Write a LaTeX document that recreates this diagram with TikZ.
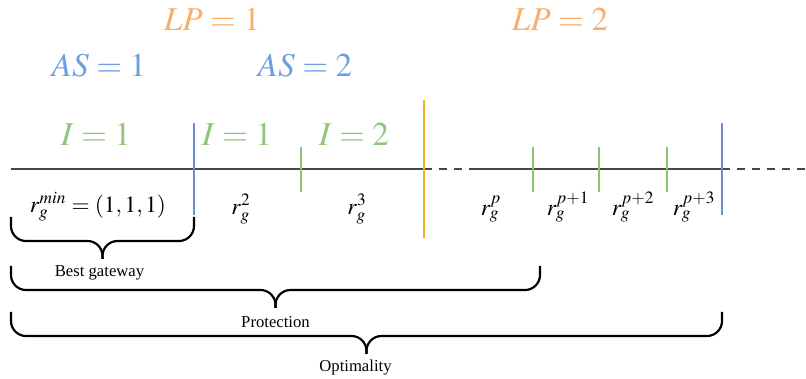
\documentclass[tikz,border=0pt]{standalone}
\usepackage{mathptmx}
\usepackage{fontspec}
\setmainfont{Liberation Serif}
\usepackage{xcolor}
\definecolor{lporange}{HTML}{F9AE6B}
\definecolor{asblue}{HTML}{6D9EE0}
\definecolor{igreen}{HTML}{93C47D}
\definecolor{cutorange}{HTML}{EDB01E}
\definecolor{cutblue}{HTML}{6690D2}
\definecolor{cutgreen}{HTML}{8BC46A}
\definecolor{axisgray}{HTML}{474747}

\begin{document}
\begin{tikzpicture}[
		x=0.6pt, y=-0.6pt, line width=1.1pt,
		level/.style={font=\fontsize{20}{24}\selectfont, inner sep=0pt}, % big coloured labels
		rank/.style={font=\fontsize{14}{16}\selectfont, inner sep=0pt},   % r_g labels under the axis
		cut/.style={line width=1.5pt},                                  % vertical separators
		open/.style={dash pattern=on 5pt off 4pt},                       % dashed parts of the axis
		grp/.style={line width=1.3pt, rounded corners=9pt},              % braces
		grplabel/.style={font=\fontsize{10}{12}\selectfont, inner sep=0pt},
	]
	\useasboundingbox (0,0) rectangle (806,379);

	% --- the axis: solid, gap, solid, open end
	\coordinate (a0) at (11,169);
	\coordinate (a1) at (424,169);
	\coordinate (a2) at (470,169);
	\coordinate (a3) at (722,169);
	\coordinate (a4) at (806,169);
	\draw[axisgray] (a0) -- (a1);
	\draw[axisgray,open] (a1) -- (a2);
	\draw[axisgray] (a2) -- (a3);
	\draw[axisgray,open] (a3) -- (a4);

	% --- separators on the axis
	\draw[cut,cutorange] (424,100) -- (424,238);
	\foreach \x in {194,722}
	\draw[cut,cutblue] (\x,123) -- (\x,215);
	\foreach \x in {301,533,599,667}
	\draw[cut,cutgreen] (\x,147) -- (\x,192);

	% --- levels above the axis
	\node[level,text=lporange] (lp1) at (212,19) {$LP=1$};
	\node[level,text=lporange] (lp2) at (560,19) {$LP=2$};
	\node[level,text=asblue] (as1) at (99,66) {$AS=1$};
	\node[level,text=asblue] (as2) at (305,66) {$AS=2$};
	\node[level,text=igreen] (i1) at (96,134) {$I=1$};
	\node[level,text=igreen] (i2) at (237,134) {$I=1$};
	\node[level,text=igreen] (i3) at (354,134) {$I=2$};

	% --- routes below the axis
	\node[rank] (rmin) at (98,207) {$r_g^{min}=(1,1,1)$};
	\node[rank] (r2) at (241,209) {$r_g^{2}$};
	\node[rank] (r3) at (357,209) {$r_g^{3}$};
	\node[rank] (rp) at (491,209) {$r_g^{p}$};
	\node[rank] (rp1) at (568,207) {$r_g^{p+1}$};
	\node[rank] (rp2) at (633,207) {$r_g^{p+2}$};
	\node[rank] (rp3) at (694,207) {$r_g^{p+3}$};

	% --- braces: left end / right end / top / text / text shift
	\foreach \l/\r/\t/\txt/\n/\dx in {11/194/217/Best gateway/bg/-3, 11/540/266/Protection/pr/0, 11/722/312/Optimality/op/-11}{
			\pgfmathsetmacro{\c}{(\l+\r)/2}
			\draw[grp] (\l,\t) |- (\c,\t+24) -- (\c,\t+42);
			\draw[grp] (\r,\t) |- (\c,\t+24) -- (\c,\t+42);
			\node[grplabel] (\n) at (\c+\dx,\t+56) {\txt};
		}
\end{tikzpicture}
\end{document}
